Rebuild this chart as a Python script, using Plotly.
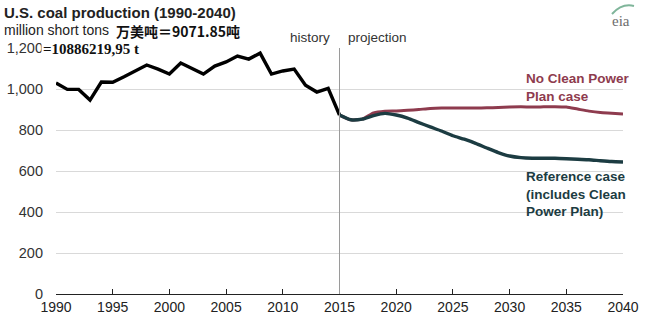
import plotly.graph_objects as go

# ---- data ----
hist_years = list(range(1990, 2016))
hist_values = [1029, 998, 998, 946, 1034, 1033, 1060, 1090, 1117, 1097, 1073, 1127,
               1100, 1073, 1112, 1132, 1161, 1146, 1175, 1073, 1088, 1097, 1018, 985,
               1003, 873]
proj_years = list(range(2015, 2041))
ref_values = [873, 850, 853, 870, 881, 873, 858, 836, 815, 795, 772, 755, 735, 712,
              690, 673, 665, 662, 662, 662, 660, 657, 655, 650, 646, 644]
nocpp_values = [873, 850, 853, 883, 892, 893, 896, 900, 905, 907, 907, 907, 907, 908,
                910, 912, 913, 912, 913, 914, 912, 902, 892, 885, 882, 878]
x_ticks = list(range(1990, 2041, 5))
y_ticks = [0, 200, 400, 600, 800, 1000, 1200]
y_ticktext = ["0", "200", "400", "600", "800", "1,000", "1,200"]

W, H = 645, 324
L, R, T, B = 56, 22, 48, 30
PW, PH = W - L - R, H - T - B

def px(x):
    return (x - L) / PW

def py(y):
    return (H - B - y) / PH

FONT = "Liberation Sans, Arial, sans-serif"
BLACK = "#000000"
MAROON = "#8e3b4e"
TEAL = "#1c3c42"

fig = go.Figure()
fig.add_trace(go.Scatter(x=hist_years, y=hist_values, mode="lines",
                         line=dict(color=BLACK, width=3.4), hoverinfo="skip"))
fig.add_trace(go.Scatter(x=proj_years, y=nocpp_values, mode="lines",
                         line=dict(color=MAROON, width=3, shape="spline", smoothing=0.6),
                         hoverinfo="skip"))
fig.add_trace(go.Scatter(x=proj_years, y=ref_values, mode="lines",
                         line=dict(color=TEAL, width=3.4, shape="spline", smoothing=0.6),
                         hoverinfo="skip"))

fig.update_layout(
    width=W, height=H, showlegend=False,
    margin=dict(l=L, r=R, t=T, b=B, pad=0),
    paper_bgcolor="white", plot_bgcolor="white",
    font=dict(family=FONT, color="#333333", size=13),
    xaxis=dict(range=[1990, 2040], tickvals=x_ticks, showgrid=False, zeroline=False,
               showline=True, linecolor="#222222", linewidth=1.2, automargin=False,
               ticks="inside", ticklen=5, tickcolor="#222222", tickwidth=1,
               tickfont=dict(size=14, color="#222222")),
    yaxis=dict(range=[0, 1200], tickvals=y_ticks, ticktext=y_ticktext, automargin=False,
               showgrid=True, gridcolor="#d9d9d9", gridwidth=1, zeroline=False,
               showline=False, ticks="", ticklabelstandoff=12,
               tickfont=dict(size=14.5, color="#333333")),
)

# history/projection divider
fig.add_shape(type="line", xref="x", yref="paper", x0=2015, x1=2015, y0=0, y1=1.0,
              line=dict(color="#9a9a9a", width=1))

ann = []
ann.append(dict(x=px(2), y=py(12), xref="paper", yref="paper", xanchor="left", yanchor="middle",
                text="<b>U.S. coal production (1990-2040)</b>", showarrow=False,
                font=dict(size=15, color="#222222", family=FONT)))
ann.append(dict(x=px(2), y=py(30), xref="paper", yref="paper", xanchor="left", yanchor="middle",
                text="million short tons", showarrow=False,
                font=dict(size=14, color="#222222", family=FONT)))
ann.append(dict(x=px(114), y=py(31), xref="paper", yref="paper", xanchor="left", yanchor="middle",
                text="<b>万美吨＝9071.85吨</b>", showarrow=False,
                font=dict(size=14, color="#111111", family="Noto Sans CJK SC")))
ann.append(dict(x=px(41), y=py(49), xref="paper", yref="paper", xanchor="left", yanchor="middle",
                text="<b>=10886219,95 t</b>", showarrow=False, bgcolor="white",
                font=dict(size=15, color="#111111", family="Liberation Serif, DejaVu Serif, serif")))
ann.append(dict(x=px(332), y=py(38), xref="paper", yref="paper", xanchor="right", yanchor="middle",
                text="history", showarrow=False,
                font=dict(size=13.5, color="#333333", family=FONT)))
ann.append(dict(x=px(346), y=py(38), xref="paper", yref="paper", xanchor="left", yanchor="middle",
                text="projection", showarrow=False,
                font=dict(size=13.5, color="#333333", family=FONT)))
ann.append(dict(x=px(524), y=py(87), xref="paper", yref="paper", xanchor="left", yanchor="middle",
                text="<b>No Clean Power<br>Plan case</b>", showarrow=False, align="left",
                font=dict(size=13.5, color=MAROON, family=FONT)))
ann.append(dict(x=px(524), y=py(194), xref="paper", yref="paper", xanchor="left", yanchor="middle",
                text="<b>Reference case<br>(includes Clean<br>Power Plan)</b>", showarrow=False,
                align="left", font=dict(size=13.5, color=TEAL, family=FONT)))
ann.append(dict(x=px(621), y=py(21), xref="paper", yref="paper", xanchor="center", yanchor="middle",
                text="eia", showarrow=False,
                font=dict(size=15, color="#6d6d6d", family="Liberation Serif, DejaVu Serif, serif")))
fig.update_layout(annotations=ann)

# eia logo swoosh
fig.add_shape(type="path", xref="paper", yref="paper",
              path=f"M {px(612)},{py(14)} Q {px(622)},{py(3)} {px(634)},{py(6)}",
              line=dict(color="#7fb59a", width=2))

fig.write_html("out.html")
